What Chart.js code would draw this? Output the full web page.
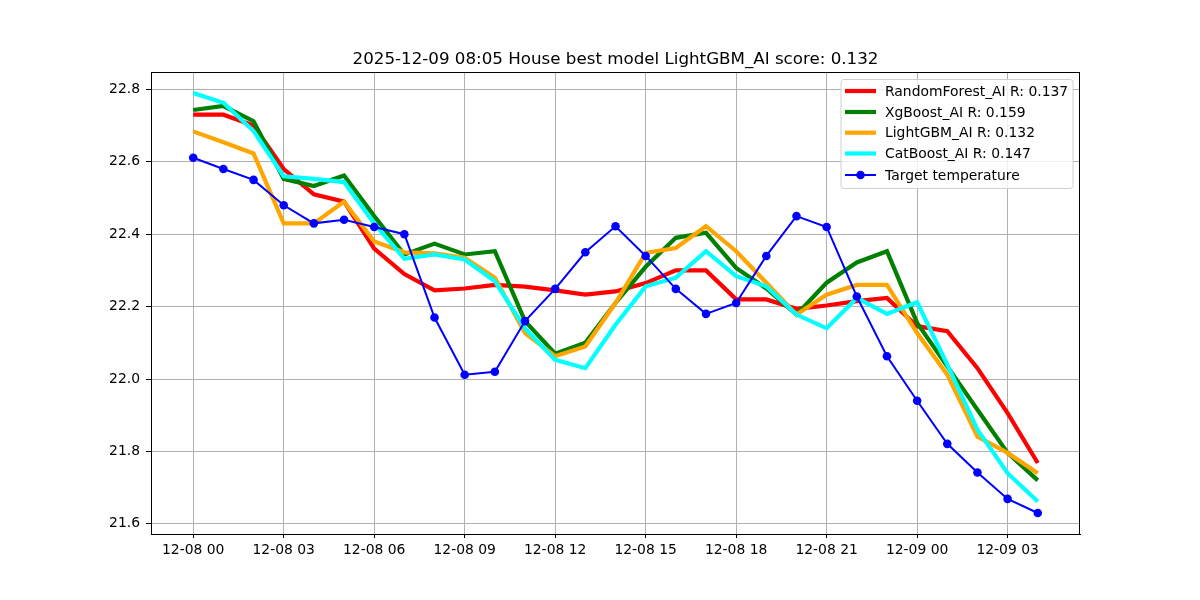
<!DOCTYPE html>
<html>
<head>
<meta charset="utf-8">
<script src="https://cdn.jsdelivr.net/npm/chart.js@4.4.1/dist/chart.umd.min.js"></script>
<style>
html,body{margin:0;padding:0;background:#fff;}
#wrap{width:1200px;height:600px;}
</style>
</head>
<body>
<div id="wrap"><canvas id="c" width="1200" height="600"></canvas></div>
<script>
const titleText = "2025-12-09 08:05 House best model LightGBM_AI score: 0.132";
const hours = [0,1,2,3,4,5,6,7,8,9,10,11,12,13,14,15,16,17,18,19,20,21,22,23,24,25,26,27,28];
const xTickValues = [0,3,6,9,12,15,18,21,24,27];
const xTickLabels = ["12-08 00","12-08 03","12-08 06","12-08 09","12-08 12","12-08 15","12-08 18","12-08 21","12-09 00","12-09 03"];
const yTickValues = [21.6,21.8,22.0,22.2,22.4,22.6,22.8];

const seriesNames = ["RandomForest_AI R: 0.137","XgBoost_AI R: 0.159","LightGBM_AI R: 0.132","CatBoost_AI R: 0.147","Target temperature"];
const randomForest = [22.73,22.73,22.70,22.58,22.51,22.49,22.36,22.29,22.245,22.25,22.26,22.255,22.245,22.233,22.242,22.265,22.30,22.30,22.22,22.22,22.194,22.203,22.215,22.224,22.146,22.132,22.03,21.906,21.768];
const xgBoost =      [22.743,22.754,22.712,22.553,22.533,22.562,22.45,22.344,22.374,22.344,22.353,22.16,22.07,22.10,22.21,22.31,22.39,22.404,22.307,22.25,22.178,22.266,22.322,22.353,22.155,22.035,21.915,21.796,21.72];
const lightGBM =     [22.684,22.654,22.623,22.43,22.43,22.49,22.38,22.35,22.347,22.335,22.28,22.127,22.063,22.09,22.21,22.348,22.362,22.422,22.353,22.266,22.178,22.233,22.26,22.26,22.127,22.012,21.841,21.796,21.74];
const catBoost =     [22.79,22.763,22.685,22.56,22.553,22.544,22.43,22.332,22.344,22.33,22.27,22.14,22.053,22.03,22.15,22.256,22.28,22.353,22.284,22.256,22.178,22.14,22.224,22.18,22.212,22.04,21.86,21.74,21.662];
const target =       [22.611,22.58,22.55,22.48,22.43,22.44,22.42,22.40,22.17,22.012,22.02,22.16,22.249,22.35,22.422,22.34,22.249,22.18,22.21,22.34,22.45,22.42,22.228,22.063,21.94,21.821,21.742,21.669,21.63];

const colors = ["#ff0000","#008000","#ffa500","#00ffff","#0000ff"];
const FONT = "'DejaVu Sans', sans-serif";

function pts(arr){ return hours.map((h,i)=>({x:h,y:arr[i]})); }

const seriesData = [randomForest, xgBoost, lightGBM, catBoost, target];
const datasets = seriesData.map((arr,i)=>{
  const isTarget = i===4;
  return {
    label: seriesNames[i],
    data: pts(arr),
    borderColor: colors[i],
    backgroundColor: colors[i],
    borderWidth: isTarget ? 2 : 4.2,
    pointRadius: isTarget ? 4.3 : 0,
    pointHoverRadius: isTarget ? 4.3 : 0,
    pointBorderWidth: 0,
    pointBackgroundColor: colors[i],
    tension: 0,
    fill: false,
    order: 5 - i,
    borderJoinStyle: 'miter',
    borderCapStyle: 'butt'
  };
});

const framePlugin = {
  id: 'frame',
  afterDraw(chart){
    const ctx = chart.ctx, a = chart.chartArea;
    ctx.save();
    // frame
    ctx.strokeStyle = '#000';
    ctx.lineWidth = 1;
    ctx.strokeRect(Math.round(a.left)+0.5, Math.round(a.top)+0.5, Math.round(a.right-a.left)-1, Math.round(a.bottom-a.top));
    // title
    ctx.fillStyle = '#000';
    ctx.font = "16.7px " + FONT;
    ctx.textAlign = 'center';
    ctx.textBaseline = 'alphabetic';
    ctx.fillText(titleText, (a.left+a.right)/2, 64);
    // legend
    const lx = 841, ly = 79.5, lw = 232, lh = 109;
    ctx.fillStyle = 'rgba(255,255,255,0.8)';
    ctx.strokeStyle = '#d0d0d0';
    ctx.lineWidth = 1;
    const r = 3;
    ctx.beginPath();
    ctx.moveTo(lx+r, ly);
    ctx.lineTo(lx+lw-r, ly); ctx.quadraticCurveTo(lx+lw, ly, lx+lw, ly+r);
    ctx.lineTo(lx+lw, ly+lh-r); ctx.quadraticCurveTo(lx+lw, ly+lh, lx+lw-r, ly+lh);
    ctx.lineTo(lx+r, ly+lh); ctx.quadraticCurveTo(lx, ly+lh, lx, ly+lh-r);
    ctx.lineTo(lx, ly+r); ctx.quadraticCurveTo(lx, ly, lx+r, ly);
    ctx.closePath();
    ctx.fill(); ctx.stroke();
    const rows = [91, 112, 132.7, 153.5, 175];
    ctx.font = "13.9px " + FONT;
    ctx.textAlign = 'left';
    ctx.textBaseline = 'middle';
    seriesNames.forEach((name,i)=>{
      const y = rows[i];
      ctx.strokeStyle = colors[i];
      ctx.lineWidth = i===4 ? 2 : 4.2;
      ctx.beginPath();
      ctx.moveTo(845, y); ctx.lineTo(876, y);
      ctx.stroke();
      if(i===4){
        ctx.fillStyle = colors[i];
        ctx.beginPath(); ctx.arc(860.5, y, 4.3, 0, Math.PI*2); ctx.fill();
      }
      ctx.fillStyle = '#000';
      ctx.fillText(name, 885, y+1);
    });
    ctx.restore();
  }
};

new Chart(document.getElementById('c'), {
  type: 'line',
  data: { datasets },
  options: {
    responsive: false,
    animation: false,
    devicePixelRatio: 1,
    layout: { padding: { top: 72, right: 120, left: 0, bottom: 0 } },
    plugins: { legend: { display: false }, title: { display: false }, tooltip: { enabled: false } },
    scales: {
      x: {
        type: 'linear',
        min: -1.4, max: 29.4,
        afterFit(s){ s.height = 66; },
        afterBuildTicks(s){ s.ticks = xTickValues.map(v=>({value:v})); },
        ticks: {
          autoSkip: false, maxRotation: 0, padding: 4,
          color: '#000', font: { family: FONT, size: 13.9 },
          callback(v){ const k = xTickValues.indexOf(v); return k>=0 ? xTickLabels[k] : ''; }
        },
        grid: { color: '#b0b0b0', lineWidth: 1, tickColor: '#000', tickLength: 4, drawTicks: true },
        border: { display: true, color: '#000', width: 1 }
      },
      y: {
        type: 'linear',
        min: 21.572, max: 22.848,
        afterFit(s){ s.width = 151; },
        afterBuildTicks(s){ s.ticks = yTickValues.map(v=>({value:v})); },
        ticks: {
          autoSkip: false, padding: 6,
          color: '#000', font: { family: FONT, size: 13.9 },
          callback(v){ return Number(v).toFixed(1); }
        },
        grid: { color: '#b0b0b0', lineWidth: 1, tickColor: '#000', tickLength: 5, drawTicks: true },
        border: { display: true, color: '#000', width: 1 }
      }
    }
  },
  plugins: [framePlugin]
});
</script>
</body>
</html>
